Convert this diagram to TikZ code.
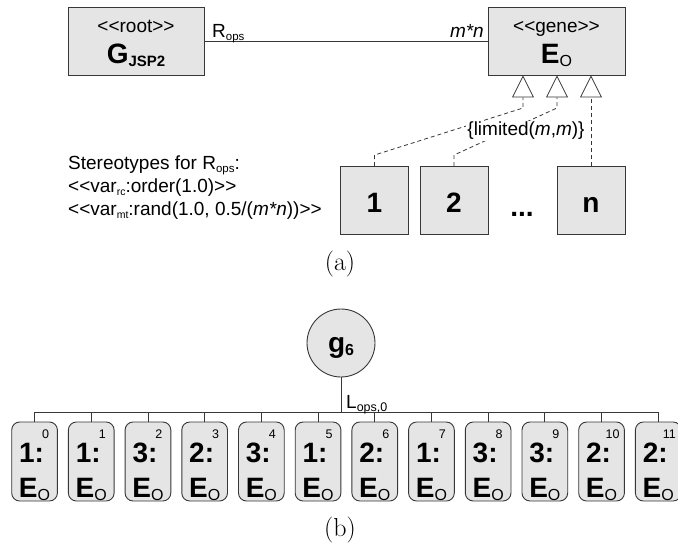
\documentclass[tikz,border=0pt]{standalone}
\usepackage{fontspec}
\newfontfamily\lsans{Liberation Sans}
\usetikzlibrary{arrows.meta}
\definecolor{boxgray}{RGB}{229,229,229}
\definecolor{edgec}{RGB}{55,55,55}
\newcommand\dlt{<\kern0pt<}
\newcommand\dgt{>\kern0pt>}
\newcommand\sbs[2]{\raisebox{-3pt}{\fontsize{#1}{#1}\selectfont #2}}
\begin{document}
\begin{tikzpicture}[x=1pt,y=-1pt,
  umlbox/.style={draw=edgec, fill=boxgray, line width=0.9pt, minimum width=137pt, minimum height=68pt, inner sep=0pt},
  txt/.style={font=\lsans\fontsize{19}{22}\selectfont, inner sep=0pt},
  bigtxt/.style={font=\lsans\bfseries\fontsize{28}{32}\selectfont, inner sep=0pt},
  link/.style={draw=edgec, line width=0.8pt},
  gen/.style={link, dash pattern=on 4pt off 3pt, -{Triangle[length=22pt,width=22pt,fill=white]}},
  cell/.style={draw=edgec, fill=boxgray, line width=0.9pt, rounded corners=8pt, minimum width=45.7pt, minimum height=79pt, inner sep=0pt},
  idx/.style={font=\lsans\fontsize{12.5}{14}\selectfont, inner sep=0pt},
  captxt/.style={font=\fontsize{26}{30}\selectfont, inner sep=0pt}]
\useasboundingbox (0,0) rectangle (678,546);
% ---------- (a) ----------
\node[umlbox, minimum width=136pt] (G) at (136,41) {};
\node[txt, anchor=base] (Gs) at (136,32) {\dlt root\dgt};
\node[bigtxt, anchor=base] (Gn) at (136,63) {G\sbs{15}{JSP2}};
\node[umlbox] (E) at (556.5,41) {};
\node[txt, anchor=base] (Es) at (556.5,32) {\dlt gene\dgt};
\node[bigtxt, anchor=base] (En) at (556.5,63) {E\sbs{16}{\mdseries O}};
\draw[link] (G.east) -- (E.west);
\node[txt, anchor=base west] (Rl) at (212,37) {R\sbs{11.5}{ops}};
\node[txt, anchor=base east] (mn) at (484,37) {\itshape m*n};

\node[umlbox, minimum width=68pt] (b1) at (374.5,200.5) {};
\node[bigtxt, anchor=base] (b1t) at (374.5,212) {1};
\node[umlbox, minimum width=68pt] (b2) at (454,200.5) {};
\node[bigtxt, anchor=base] (b2t) at (454,212) {2};
\node[umlbox, minimum width=68pt] (bn) at (591,200.5) {};
\node[bigtxt, anchor=base] (bnt) at (591,212) {n};
\node[bigtxt, anchor=base] (dots) at (522,216) {...};

\coordinate (k1) at (523,108);
\coordinate (k2) at (557,108);
\draw[gen] (b1.north) -- ++(0,-11) -- (k1) -- (E.south -| k1);
\draw[gen] (b2.north) -- ++(0,-11) -- (k2) -- (E.south -| k2);
\draw[gen] (bn.north) -- (E.south -| bn.north);
\node[txt, fill=white, inner sep=1pt] (lim) at (526,131) {\{limited(\textit{m},\textit{m})\}};

\node[txt, anchor=base west] (st1) at (68,169) {Stereotypes for R\sbs{11.5}{ops}:};
\node[txt, anchor=base west] (st2) at (68,192.5) {\dlt var\sbs{10.5}{rc}:order(1.0)\dgt};
\node[txt, anchor=base west] (st3) at (68,215.5) {\dlt var\sbs{10.5}{mt}:rand(1.0, 0.5/(\textit{m*n}))\dgt};

\node[captxt] (capa) at (340,264) {(a)};
% ---------- (b) ----------
\node[circle, draw=edgec, fill=boxgray, line width=0.9pt, minimum size=68pt, inner sep=0pt] (g) at (341,343) {};
\node[bigtxt, anchor=base] (gl) at (341,352) {g\sbs{16}{6}};
\coordinate (busL) at (34.5,412);
\coordinate (busR) at (658.5,412);
\draw[link] (g.south) -- (g.south |- busL);
\draw[link] (busL) -- (busR);
\node[txt, anchor=base west] (L) at (346,408) {L\sbs{12.5}{ops,0}};
\foreach \i/\n in {0/1,1/1,2/3,3/2,4/3,5/1,6/2,7/1,8/3,9/3,10/2,11/2} {
  \pgfmathsetmacro\cx{34.55+56.7*\i}
  \node[cell] (c\i) at (\cx,461.5) {};
  \node[bigtxt, anchor=base] (cn\i) at (\cx-3,462) {\n:};
  \node[bigtxt, anchor=base] (ce\i) at (\cx,497) {E\sbs{16}{\mdseries O}};
  \node[idx, anchor=base] (ci\i) at (\cx+11,438) {\i};
  \draw[link] (c\i.north) -- (c\i.north |- busL);
}
\node[captxt] (capb) at (340,530) {(b)};
\end{tikzpicture}
\end{document}
